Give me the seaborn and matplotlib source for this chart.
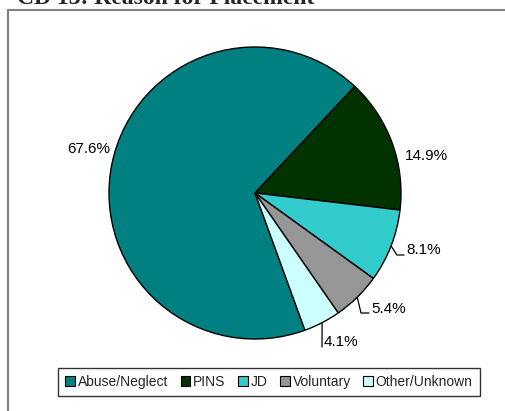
import matplotlib
matplotlib.use('Agg')
import matplotlib.pyplot as plt
import matplotlib.patches as mpatches
import numpy as np
import seaborn as sns

# data
categories = ['Abuse/Neglect', 'PINS', 'JD', 'Voluntary', 'Other/Unknown']
shares = [67.6, 14.9, 8.1, 5.4, 4.1]
colors = ['#008080', '#003300', '#33CCCC', '#969696', '#CCFFFF']
title = 'CD 13: Reason for Placement'


def setup():
    sns.set_theme(style='white')
    plt.rcParams['font.family'] = ['Liberation Sans', 'DejaVu Sans']


def draw():
    fig = plt.figure(figsize=(5.06, 4.11), dpi=100)
    W, H = 506.0, 411.0

    # outer chart frame (only left and top visible in the crop)
    fig.add_artist(mpatches.Rectangle((8 / W, -0.05), 1.2, 1 - 10 / H + 0.05,
                                      transform=fig.transFigure, fill=False,
                                      edgecolor='#808080', linewidth=1.5))

    fig.text(17 / W, 1 - 4 / H, title, family='Liberation Serif',
             fontweight='bold', fontsize=17, va='baseline', ha='left')

    # pie centred at (255, 193) px with radius 146 px
    cx, cy, r = 255, 193, 146
    ax = fig.add_axes([(cx - r) / W, (H - cy - r) / H, 2 * r / W, 2 * r / H])
    wedges, _ = ax.pie(shares, colors=colors, startangle=-70, counterclock=False,
                       wedgeprops=dict(edgecolor='black', linewidth=1.0))
    ax.set_xlim(-1, 1)
    ax.set_ylim(-1, 1)
    ax.set_aspect('equal')
    ax.axis('off')

    # label layout: (text x, text y, ha, leader points) in pie radius units
    def px(x, y):
        return ((x - cx) / r, (cy - y) / r)

    layout = [
        (px(110, 149), 'right', None),
        (px(405, 156), 'left', None),
        (px(406, 250), 'left', [px(397, 255), px(404, 255)]),
        (px(371, 309), 'left', [px(361, 313), px(369, 313)]),
        (px(324, 342), 'left', [px(322, 347)]),
    ]
    for w, val, (pos, ha, leader) in zip(wedges, shares, layout):
        ax.text(pos[0], pos[1], '%.1f%%' % val, ha=ha, va='center',
                fontsize=11, color='black', clip_on=False)
        if leader:
            mid = np.deg2rad((w.theta1 + w.theta2) / 2)
            pts = [(np.cos(mid), np.sin(mid))] + leader
            xs, ys = zip(*pts)
            ax.plot(xs, ys, color='black', linewidth=0.9, clip_on=False)

    handles = [mpatches.Patch(facecolor=c, edgecolor='black', linewidth=0.8)
               for c in colors]
    leg = fig.legend(handles, categories, loc='center',
                     bbox_to_anchor=(269 / W, 1 - 382 / H), ncol=5,
                     fontsize=10, handlelength=0.7, handleheight=0.7,
                     handletextpad=0.2, columnspacing=0.9,
                     frameon=True, fancybox=False, borderpad=0.5)
    leg.get_frame().set_edgecolor('black')
    leg.get_frame().set_linewidth(1.0)

    fig.savefig('out.png', dpi=100)
    plt.close(fig)


if __name__ == '__main__':
    setup()
    draw()
